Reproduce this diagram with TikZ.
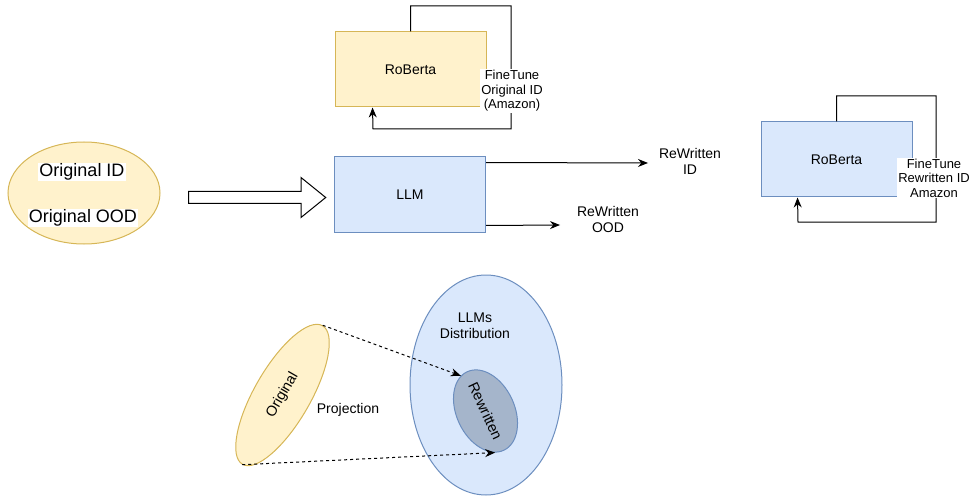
\documentclass[tikz,border=0pt]{standalone}
\usepackage{fontspec}
\setmainfont{Liberation Sans}
\usetikzlibrary{shapes,arrows.meta,positioning,calc}

\definecolor{ylwfill}{HTML}{FFF2CC}
\definecolor{ylwline}{HTML}{D6B656}
\definecolor{bluefill}{HTML}{DAE8FC}
\definecolor{blueline}{HTML}{6C8EBF}
\definecolor{rwfill}{HTML}{A5B5CB}

\begin{document}
\begin{tikzpicture}[x=1pt,y=-1pt,
    model/.style={rectangle, draw, line width=1pt, minimum width=151pt, minimum height=75pt, font=\fontsize{14}{16}\selectfont},
    ybox/.style={model, fill=ylwfill, draw=ylwline},
    bbox/.style={model, fill=bluefill, draw=blueline},
    txt/.style={align=center, font=\fontsize{14}{16}\selectfont, inner sep=1pt},
    ftlabel/.style={txt, fill=white, font=\fontsize{13}{14.5}\selectfont},
    blob/.style={ellipse, line width=1pt, font=\fontsize{14.5}{16}\selectfont, inner sep=0pt},
    arrow/.style={-{Stealth[length=10pt,width=8pt]}, line width=1pt},
    proj/.style={arrow, dash pattern=on 3pt off 3pt}
]
    \useasboundingbox (0,0) rectangle (974,497);

    % input data
    \node[blob, draw=ylwline, fill=ylwfill, minimum width=152pt, minimum height=102pt] (src) at (84,193) {};
    \node[fill=white, inner sep=1pt, font=\fontsize{18}{20}\selectfont] (srcid) at (82,172) {Original ID};
    \node[fill=white, inner sep=1pt, font=\fontsize{18}{20}\selectfont] (srcood) at (83,218) {Original OOD};

    \node[single arrow, draw, line width=1pt, minimum height=137pt, minimum width=39pt,
          single arrow head extend=14pt, single arrow tip angle=78,
          inner xsep=0pt, inner ysep=5.5pt] (feed) at (253.5,197.5) {};

    % models
    \node[ybox] (rob1) at (410.5,69.5) {RoBerta};
    \node[bbox] (llm) at (410,194.5) {LLM};
    \node[bbox] (rob2) at (836.5,159.5) {RoBerta};

    % outputs
    \node[txt] (rwid) at (690,161) {ReWritten\\ID};
    \node[txt] (rwood) at (608,219) {ReWritten\\OOD};
    \coordinate (idend) at (648,163);
    \coordinate (oodend) at (560,225);

    \draw[arrow] ([yshift=-6pt]llm.north east) -- (idend);
    \draw[arrow] ([yshift=7pt]llm.south east) -- (oodend);

    % fine tune loops
    \draw[arrow] (rob1.north) |- (511,6) |- (373,129) -- ([xshift=38pt]rob1.south west);
    \node[ftlabel] (ft1) at (512,91) {FineTune\\Original ID\\(Amazon)};

    \draw[arrow] (rob2.north) |- (936,96) |- (798,222) -- ([xshift=37pt]rob2.south west);
    \node[ftlabel] (ft2) at (934,178) {FineTune\\Rewritten ID\\Amazon};

    % projection
    \node[blob, draw=blueline, fill=bluefill, minimum width=152pt, minimum height=220pt] (dist) at (486,385) {};
    \node[txt] (distlbl) at (475,326) {LLMs\\Distribution};
    \node[blob, draw=blueline, fill=rwfill, minimum width=86pt, minimum height=58pt, rotate=-65] (rw) at (485.5,411) {Rewritten};
    \node[blob, draw=ylwline, fill=ylwfill, minimum width=160pt, minimum height=56pt, rotate=60] (orig) at (282.5,395) {Original};
    \node[txt] (projlbl) at (348,410) {Projection};

    \draw[proj] (orig.east) -- (rw.190);
    \draw[proj] (orig.west) -- (rw.-12);
\end{tikzpicture}
\end{document}
